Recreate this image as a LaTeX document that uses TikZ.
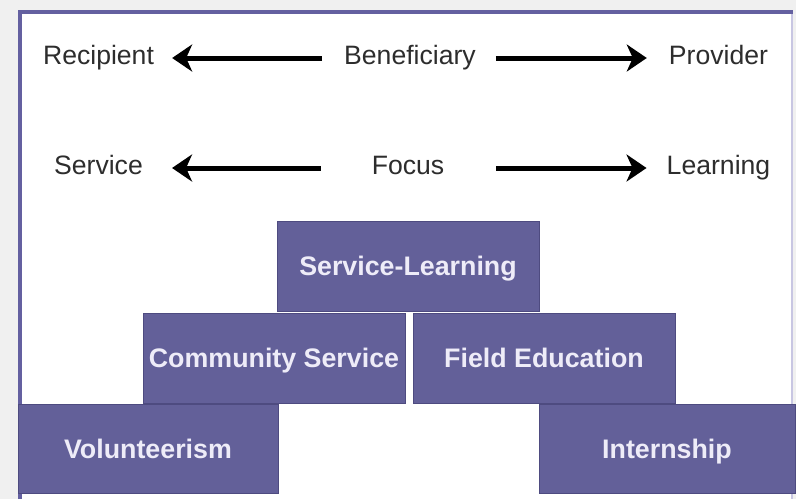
\documentclass[tikz,border=0pt]{standalone}
\usepackage{fontspec}
\setmainfont{Liberation Sans}
\usetikzlibrary{arrows.meta}
\definecolor{boxfill}{RGB}{99,96,153}
\definecolor{boxedge}{RGB}{78,75,128}
\definecolor{boxtext}{RGB}{238,236,248}
\definecolor{frameline}{RGB}{100,96,160}
\definecolor{framepale}{RGB}{200,198,226}
\definecolor{outergray}{RGB}{240,240,240}
\definecolor{labeltext}{RGB}{45,45,45}
\begin{document}
\begin{tikzpicture}[x=1pt,y=-1pt,
  lbl/.style={inner sep=0pt, text height=19pt, text depth=5.6pt, text=labeltext,
    font=\fontsize{26.6}{30}\selectfont},
  bigarrow/.style={line width=5pt, -{Stealth[length=20pt,width=27pt,inset=6pt]}},
  tile/.style={draw=boxedge, line width=1pt, fill=boxfill, text=boxtext,
    font=\fontsize{26.8}{30}\selectfont\bfseries, inner sep=0pt,
    text height=19.2pt, text depth=0pt, minimum height=90pt}
]
% background and frame
\fill[outergray] (0,0) rectangle (796,499);
\fill[white] (20,12) rectangle (792,499);
\draw[framepale, line width=1.5pt] (792,12) -- (792,499);
\draw[frameline, line width=4pt] (20,499) -- (20,12) -- (793,12);
\useasboundingbox (0,0) rectangle (796,499);

% label rows
\node[lbl] (rec)  at (98.5,58) {Recipient};
\node[lbl] (ben)  at (410,58)  {Beneficiary};
\node[lbl] (prov) at (718.5,58) {Provider};
\node[lbl] (serv) at (98.5,168) {Service};
\node[lbl] (foc)  at (408,168) {Focus};
\node[lbl] (learn) at (718.5,168) {Learning};

\draw[bigarrow, shorten <=22pt, shorten >=18pt] (ben.west) -- (rec.east);
\draw[bigarrow, shorten <=20pt, shorten >=22pt] (ben.east) -- (prov.west);
\draw[bigarrow, shorten <=51pt, shorten >=29pt] (foc.west) -- (serv.east);
\draw[bigarrow, shorten <=52pt, shorten >=20pt] (foc.east) -- (learn.west);

% tiles
\node[tile, minimum width=262pt] (sl) at (408,266) {Service-Learning};
\node[tile, minimum width=262pt] (cs) at (274,358) {Community Service};
\node[tile, minimum width=262pt] (fe) at (544,358) {Field Education};
\node[tile, minimum width=260pt, minimum height=89pt] (vol) at (148,448.5) {Volunteerism};
\node[tile, minimum width=256pt, minimum height=89pt] (int) at (667,448.5) {Internship};
\end{tikzpicture}
\end{document}
